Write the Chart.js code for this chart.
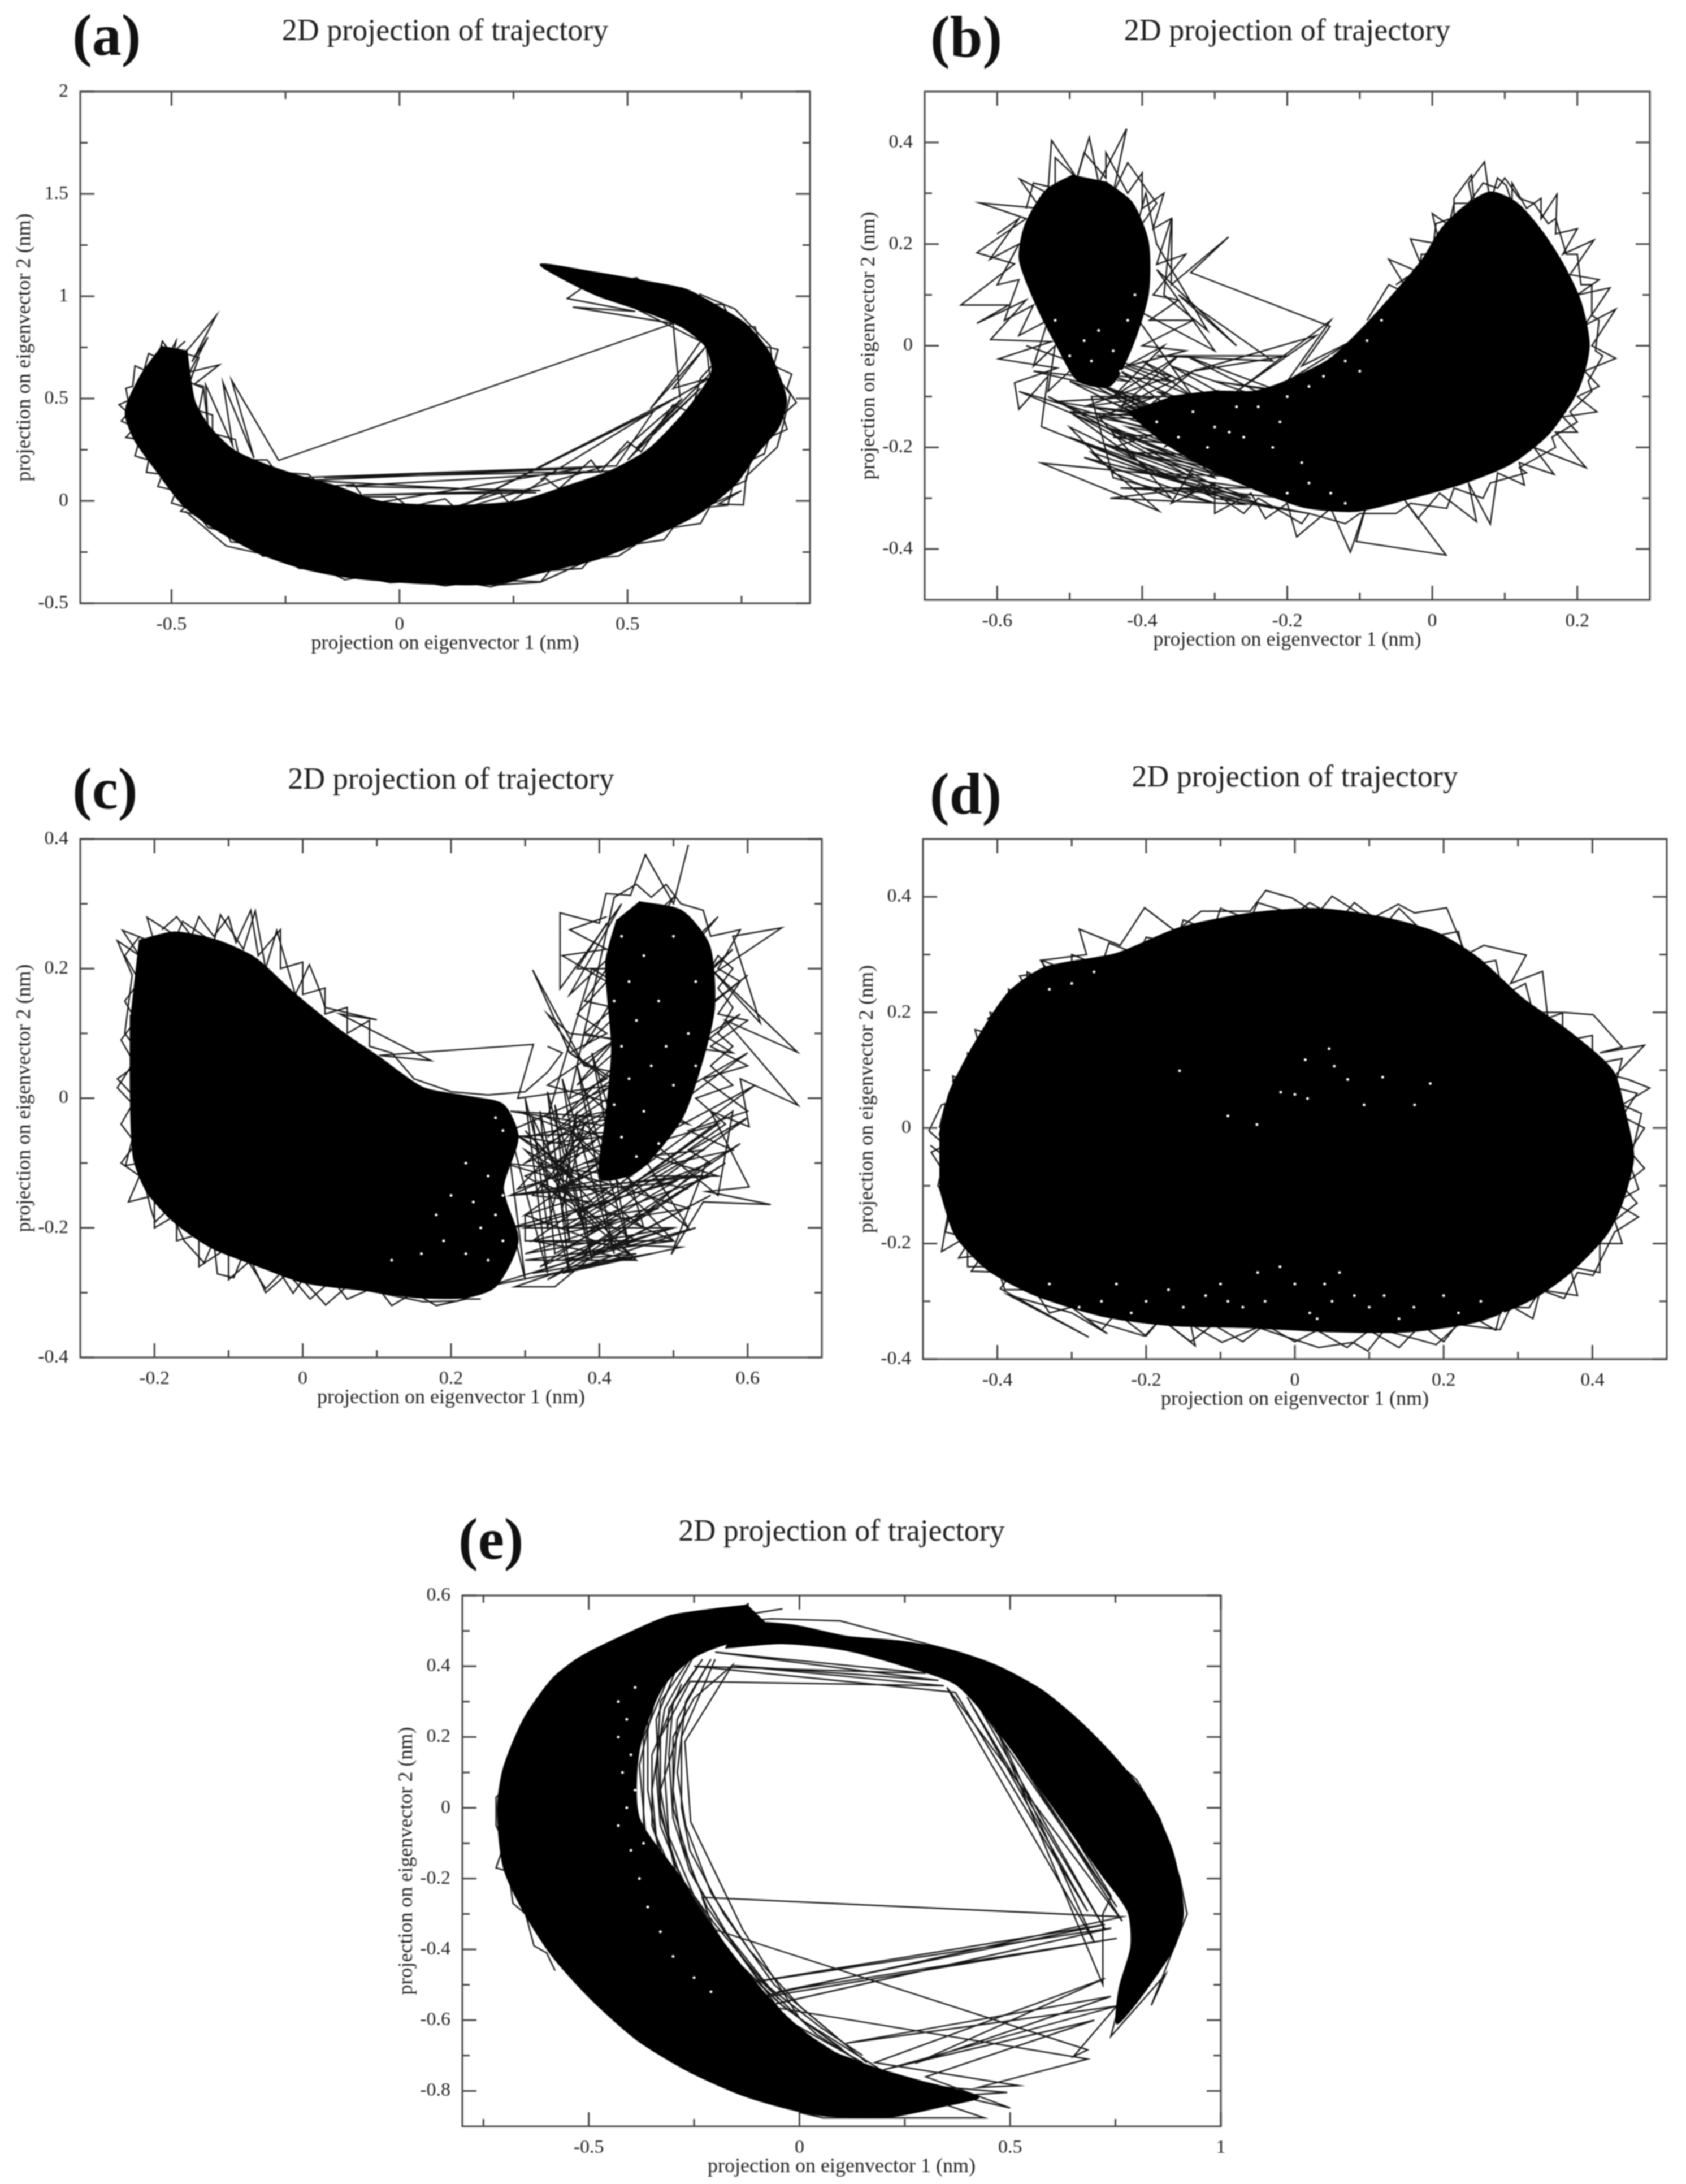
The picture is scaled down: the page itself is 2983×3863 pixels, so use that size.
<!DOCTYPE html>
<html>
<head>
<meta charset="utf-8">
<title>2D projection of trajectory</title>
<script src="https://cdn.jsdelivr.net/npm/chart.js@4"></script>
<style>
html,body{margin:0;padding:0;background:#fff}
body{position:relative;width:2983px;height:3863px;overflow:hidden}
canvas{position:absolute;filter:blur(0.9px)}
.tag{position:absolute;font:bold 104px "Liberation Serif",serif;line-height:104px;color:#111;filter:blur(0.9px)}
</style>
</head>
<body>
<script>
// values, eigenvector 1 / eigenvector 2 in nm
// *Core = outline of the part where the trajectory is solid black
// *Trace, *Fringe, *Bridge, *Ring, *Arc = strands that can still be followed by eye
// *Specks = small white gaps left inside the black

const aXMajor=[-0.5,0,0.5], aXMinor=[-0.25,0.25,0.75]
const aYMajor=[-0.5,0,0.5,1,1.5,2], aYMinor=[-0.25,0.25,0.75,1.25,1.75]
const aCore=[[-.52,.757],[-.565,.62],[-.597,.473],[-.60,.41],[-.579,.293],[-.532,.146],[-.473,-.023],[-.402,-.139],[-.307,-.255],[-.212,-.329],[-.117,-.371],[-.023,-.392],[.108,-.407],[.214,-.403],[.309,-.35],[.428,-.287],[.546,-.181],[.653,-.065],[.736,.082],[.783,.23],[.83,.357],[.848,.483],[.836,.589],[.807,.736],[.759,.863],[.70,.947],[.629,1.032],[.546,1.07],[.428,1.116],[.309,1.154],[.428,1.01],[.546,.92],[.62,.85],[.67,.76],[.686,.65],[.677,.589],[.629,.441],[.546,.251],[.463,.146],[.368,.072],[.262,-.002],[.143,-.023],[.049,-.023],[-.046,-.002],[-.141,.072],[-.224,.124],[-.307,.188],[-.366,.251],[-.419,.367],[-.449,.483],[-.461,.631],[-.467,.736]]
const aTrace=[[-.53,.62],[-.49,.78],[-.50,.66],[-.46,.75],[-.402,.905],[-.455,.68],[-.42,.80],[-.46,.63],[-.395,.665],[-.45,.57],[-.43,.56],[-.42,.36],[-.425,.568],[-.366,.272],[-.387,.578],[-.319,.209],[-.368,.589],[-.265,.198],[.60,.867],[.615,.504],[.60,.867],[.38,.947],[.517,.926],[.368,.989],[.428,1.084],[.5,.96],[.66,.78],[.62,.65],[.55,.45],[.67,.75],[.6,.55],[.68,.6],[.558,.441],[.309,.103],[.605,.504],[.143,-.019],[.558,.441],[.475,.171],[-.212,.114],[.475,.171],[-.165,.114],[.463,.146],[-.117,.072],[.309,.051],[-.08,.03],[.3,.04],[-.2,.1],[.4,.16],[-.05,-.01],[.15,-.03],[.45,.17],[.62,.5],[.5,.2],[.66,.55],[.52,.26],[.68,.62],[.659,1.01],[.736,.937],[.813,.757],[.819,.631],[.857,.521],[.842,.378],[.828,.262],[.76,.12],[.754,-.019],[.70,-.015],[.75,.05],[.309,-.397],[.214,-.41],[.1,-.4],[-.3,-.26],[-.38,-.22],[-.47,-.05]]
const aFringe=[[-.47,.78],[-.5,.72],[-.52,.78],[-.53,.7],[-.55,.72],[-.56,.64],[-.58,.66],[-.585,.56],[-.6,.55],[-.595,.49],[-.615,.47],[-.595,.43],[-.61,.39],[-.58,.36],[-.6,.31],[-.57,.3],[-.58,.22],[-.55,.2],[-.555,.14],[-.52,.13],[-.53,.07],[-.49,.05],[-.5,-.01],[-.47,-.03],[-.48,-.05],[-.44,-.07],[-.42,-.13],[-.38,-.15],[-.37,-.2],[-.33,-.21],[-.3,-.27],[-.26,-.27],[-.22,-.33],[-.17,-.33],[-.12,-.385],[-.08,-.37],[-.02,-.4],[.04,-.39],[.1,-.415],[.15,-.4],[.2,-.42],[.25,-.39],[.31,-.395],[.33,-.34],[.4,-.33],[.42,-.28],[.48,-.27],[.52,-.21],[.58,-.19],[.6,-.13],[.66,-.11],[.68,-.03],[.72,-.02],[.73,.07],[.76,.1],[.77,.2],[.8,.23],[.81,.31],[.85,.35],[.84,.42],[.87,.48],[.85,.55],[.86,.62],[.82,.66],[.83,.74],[.79,.76],[.78,.85],[.73,.86],[.71,.96],[.66,.96],[.62,1.04],[.56,1.02],[.52,1.09],[.46,1.06],[.42,1.12]]
const aInner=[[.67,.8],[.71,.72],[.66,.6],[.64,.43],[.6,.47],[.53,.24],[.5,.29],[.44,.14],[.42,.2],[.35,.06],[.32,.11],[.24,-.01],[.22,.04],[.12,-.03],[.1,.01],[.02,-.03],[-.01,.02],[-.08,.02],[-.1,.08],[-.17,.07],[-.2,.13],[-.27,.14],[-.29,.2],[-.35,.2],[-.36,.3],[-.41,.33],[-.41,.42],[-.44,.44],[-.43,.55],[-.46,.58],[-.44,.7],[-.47,.72]]

const bXMajor=[-0.6,-0.4,-0.2,0,0.2], bXMinor=[-0.5,-0.3,-0.1,0.1]
const bYMajor=[-0.4,-0.2,0,0.2,0.4], bYMinor=[-0.3,-0.1,0.1,0.3]
const bCoreLeft=[[-.495,.336],[-.532,.306],[-.561,.238],[-.569,.17],[-.547,.084],[-.517,-.001],[-.488,-.069],[-.444,-.078],[-.414,-.001],[-.392,.102],[-.392,.204],[-.414,.281],[-.451,.323]]
const bCoreRight=[[-.42,-.13],[-.37,-.19],[-.31,-.24],[-.245,-.282],[-.178,-.317],[-.105,-.325],[-.031,-.30],[.043,-.27],[.109,-.231],[.161,-.172],[.201,-.086],[.216,-.001],[.205,.084],[.183,.153],[.153,.221],[.116,.281],[.08,.302],[.043,.272],[.013,.23],[-.013,.17],[-.053,.102],[-.097,.033],[-.141,-.026],[-.2,-.069],[-.245,-.09],[-.3,-.09],[-.36,-.1]]
const bTrace=[[-.4215,.427],[-.46,.32],[-.473,.41],[-.49,.33],[-.525,.404],[-.53,.3],[-.569,.328],[-.54,.27],[-.624,.281],[-.56,.25],[-.628,.183],[-.576,.161],[-.65,.08],[-.584,.08],[-.628,.044],[-.56,.09],[-.609,.012],[-.525,.008],[-.598,-.026],[-.517,-.044],[-.576,-.073],[-.57,-.125],[-.53,-.06],[-.539,-.159],[-.385,-.248],[-.5,-.13],[-.33,-.26],[-.539,-.231],[-.377,-.325],[-.47,-.21],[-.26,-.312],[-.444,-.3],[-.3,-.275],[-.53,-.1],[-.35,-.22],[-.57,-.09],[-.33,-.19],[-.5,-.05],[-.3,-.17],[-.45,-.08],[-.27,-.2],[-.42,-.16],[-.25,-.26],[-.4,-.2],[-.2,-.3],[-.35,-.28],[-.17,-.33],[-.3,-.3],[-.5,-.16],[-.44,-.25],[-.36,-.3],[-.46,-.14],[-.38,-.1],[-.48,-.12],[-.36,-.06],[-.46,-.02],[-.33,-.1],[-.42,.08],[-.3,-.01],[-.38,.15],[-.27,.0],[-.35,.1],[-.22,-.03],[-.38,-.02],[-.2,-.02],[-.33,-.05],[-.16,.02],[-.27,-.09],[-.14,.05],[-.2,-.07],[-.11,.01],[-.18,-.04],[-.141,.038],[-.333,.144],[-.281,.214],[-.36,.12],[-.359,.251],[-.37,.1],[-.31,.03],[-.38,.2],[-.395,.3],[-.41,.22],[-.38,.28],[-.42,.36],[-.44,.3],[-.4215,.427]]
const bRing=[[-.56,.27],[-.55,.32],[-.52,.31],[-.52,.37],[-.49,.33],[-.48,.38],[-.45,.33],[-.45,.38],[-.42,.3],[-.4,.34],[-.4,.27],[-.37,.3],[-.385,.23],[-.36,.25],[-.38,.16],[-.34,.18],[-.385,.1],[-.35,.09],[-.39,.05],[-.33,.05],[-.4,.0],[-.34,-.01],[-.42,-.04],[-.36,-.07],[-.5,-.05],[-.53,-.09],[-.52,.0],[-.55,-.04],[-.53,.05],[-.57,.02],[-.55,.08],[-.59,.05],[-.57,.13],[-.6,.12],[-.57,.2],[-.61,.17],[-.57,.25],[-.6,.22]]
const bRing2=[[-.56,-.0],[-.42,-.07],[-.55,-.05],[-.4,-.1],[-.52,-.11],[-.38,-.14],[-.5,-.13],[-.36,-.17],[-.5,-.07],[-.35,-.14],[-.47,-.12],[-.34,-.18],[-.46,-.07],[-.37,.0],[-.44,-.1],[-.35,-.02],[-.43,-.12],[-.33,-.05],[-.41,-.14],[-.3,-.09],[-.39,-.17],[-.28,-.1],[-.37,-.2],[-.26,-.1]]
const bFringe=[[-.09,.05],[-.06,.12],[-.03,.1],[-.06,.17],[-.01,.14],[-.03,.21],[.01,.2],[.0,.26],[.03,.23],[.03,.29],[.054,.336],[.06,.25],[.05,.32],[.072,.362],[.08,.28],[.09,.33],[.102,.315],[.11,.28],[.11,.32],[.13,.27],[.15,.29],[.15,.25],[.172,.298],[.17,.22],[.2,.23],[.18,.18],[.223,.208],[.19,.14],[.23,.13],[.2,.1],[.245,.114],[.21,.04],[.253,.072],[.22,.0],[.253,-.025],[.21,-.05],[.23,-.08],[.2,-.1],[.227,-.13],[.18,-.14],[.2,-.17],[.17,-.17],[.212,-.24],[.14,-.2],[.168,-.253],[.12,-.23],[.127,-.274],[.09,-.25],[.08,-.351],[.05,-.27],[.061,-.346],[.01,-.29],[-.02,-.34],[-.04,-.3],[.019,-.412],[-.105,-.385],[-.09,-.31],[-.113,-.406],[-.14,-.32],[-.187,-.376],[-.2,-.31],[-.23,-.34],[-.25,-.29],[-.3,-.33],[-.3,-.27],[-.36,-.31],[-.33,-.24]]
const bFringe2=[[-.05,.12],[-.035,.135],[-.02,.13],[-.015,.18],[.0,.18],[.005,.24],[.025,.25],[.03,.28],[.05,.28],[.07,.32],[.09,.31],[.1,.33],[.12,.29],[.14,.28],[.16,.24],[.17,.25],[.185,.18],[.2,.18],[.205,.12],[.22,.12],[.22,.06],[.23,.05],[.225,-.01],[.235,-.02],[.215,-.07],[.22,-.09],[.19,-.13],[.2,-.15],[.165,-.18],[.17,-.2],[.12,-.24],[.13,-.25],[.08,-.27],[.07,-.3],[.03,-.28],[.02,-.32],[-.03,-.31],[-.05,-.33],[-.1,-.33],[-.12,-.35],[-.17,-.33],[-.18,-.35],[-.24,-.3],[-.26,-.33],[-.32,-.27],[-.34,-.3]]
const bBridge=[[-.48,-.06],[-.3,-.2],[-.46,-.1],[-.27,-.22],[-.43,-.05],[-.27,-.16],[-.4,-.03],[-.25,-.14],[-.42,-.12],[-.25,-.24],[-.45,-.16],[-.23,-.28],[-.46,-.19],[-.3,-.26],[-.4,-.12],[-.22,-.2],[-.38,-.09],[-.22,-.15],[-.36,-.04],[-.2,-.12],[-.34,-.02],[-.21,-.09],[-.3,-.07],[-.2,-.09],[-.44,-.2],[-.25,-.3],[-.42,-.24],[-.22,-.32],[-.5,-.18],[-.34,-.27],[-.48,-.22],[-.3,-.31],[-.44,-.26],[-.47,-.1],[-.2,-.1],[-.46,-.14],[-.2,-.16],[-.44,-.18],[-.2,-.22],[-.42,-.21],[-.22,-.26],[-.4,-.25],[-.25,-.28],[-.43,-.28],[-.3,-.29]]
const bSpecks=[[-.47,-.03],[-.44,-.01],[-.5,-.02],[-.46,.03],[-.42,.05],[-.41,.1],[-.52,.05],[-.43,-.05],[-.48,.01],[-.3,-.16],[-.27,-.12],[-.26,-.18],[-.28,-.17],[-.24,-.12],[-.21,-.15],[-.2,-.1],[-.17,-.08],[-.22,-.2],[-.18,-.23],[-.15,-.06],[-.12,-.03],[-.09,.01],[-.14,-.02],[-.1,-.05],[-.07,.05],[-.17,-.27],[-.14,-.29],[-.2,-.29],[-.12,-.31],[-.38,-.15],[-.35,-.18],[-.33,-.13],[-.31,-.2]]

const cXMajor=[-0.2,0,0.2,0.4,0.6], cXMinor=[-0.1,0.1,0.3,0.5]
const cYMajor=[-0.4,-0.2,0,0.2,0.4], cYMinor=[-0.3,-0.1,0.1,0.3]
const cCoreLeft=[[-.221,.243],[-.173,.256],[-.115,.243],[-.064,.216],[-.013,.163],[.052,.103],[.103,.063],[.162,.016],[.22,.003],[.27,-.01],[.29,-.06],[.27,-.14],[.29,-.22],[.26,-.29],[.22,-.307],[.154,-.307],[.089,-.297],[.001,-.284],[-.064,-.257],[-.122,-.231],[-.173,-.191],[-.21,-.144],[-.228,-.091],[-.232,.009],[-.232,.129]]
const cCoreRight=[[.453,.303],[.511,.289],[.548,.236],[.555,.143],[.54,.063],[.511,-.031],[.453,-.111],[.402,-.124],[.409,-.031],[.417,.076],[.409,.209],[.424,.276]]
const cTrace=[[.52,.391],[.5,.3],[.462,.376],[.442,.313],[.409,.316],[.4,.27],[.347,.286],[.347,.169],[.43,.3],[.36,.16],[.5,.31],[.38,.08],[.56,.28],[.37,.02],[.58,.23],[.35,-.03],[.6,.19],[.33,-.06],[.59,.13],[.34,-.1],[.6,.07],[.35,-.14],[.61,.02],[.37,-.18],[.6,-.03],[.38,-.21],[.59,-.07],[.36,-.25],[.57,-.1],[.33,-.28],[.55,-.15],[.4,-.24],[.53,-.2],[.35,-.27],[.51,-.23],[.31,-.22],[.45,-.25],[.32,-.1],[.52,-.17],[.35,-.2],[.5,-.1],[.33,-.03],[.39,.2],[.58,.07],[.36,.1],[.33,.13],[.38,.05],[.31,.198],[.36,.07],[.52,-.04],[.33,.02],[.646,.263],[.58,.25],[.617,.116],[.55,.2],[.667,.071],[.57,.12],[.668,-.011],[.59,.03],[.602,-.044],[.55,-.02],[.602,-.137],[.544,-.144],[.631,-.164],[.54,-.16],[.497,-.241],[.544,-.1],[.34,-.291],[.286,-.291],[.34,-.27],[.45,-.24],[.35,-.25],[.5,-.2],[.3,-.2],[.52,-.12],[.28,-.15],[.48,-.05],[.26,-.06],[.42,.02],[.29,.0],[.311,.083],[.103,.066],[.173,.058],[.05,.13],[.1,.121],[.03,.14],[.023,.166],[.009,.206],[-.01,.16],[-.035,.259],[-.05,.2],[-.064,.289],[-.08,.23],[-.111,.283],[-.12,.24],[-.162,.273],[-.17,.25],[-.21,.279],[-.2,.24],[-.243,.259],[-.22,.22],[-.25,.243],[-.23,.19],[-.24,.1],[-.22,.07],[-.25,.016],[-.22,-.02],[-.239,-.104],[-.22,-.1],[-.205,-.17],[-.199,-.191],[-.18,-.17],[-.16,-.22],[-.133,-.254],[-.12,-.22],[-.115,-.271],[-.093,-.277],[-.08,-.24],[-.05,-.294],[-.03,-.27],[-.013,-.301],[.0,-.28],[.031,-.319],[.06,-.29],[.162,-.314],[.209,-.313],[.24,-.3]]
const cFringe=[[-.22,.25],[-.24,.22],[-.22,.18],[-.24,.15],[-.225,.12],[-.245,.09],[-.225,.05],[-.25,.03],[-.225,0],[-.245,-.04],[-.225,-.07],[-.245,-.1],[-.22,-.12],[-.235,-.16],[-.2,-.15],[-.2,-.2],[-.17,-.18],[-.17,-.22],[-.14,-.21],[-.14,-.26],[-.1,-.23],[-.1,-.28],[-.07,-.25],[-.05,-.3],[-.02,-.27],[.01,-.31],[.04,-.28],[.06,-.31],[.1,-.29],[.12,-.32],[.15,-.3],[.18,-.32],[.22,-.31],[.24,-.31]]
const cTop=[[-.19,.26],[-.17,.28],[-.15,.25],[-.14,.28],[-.12,.25],[-.1,.28],[-.09,.24],[-.07,.29],[-.06,.22],[-.03,.26],[-.03,.2],[0,.21],[0,.16],[.03,.17],[.03,.13],[.06,.14],[.06,.1],[.09,.12],[.09,.08],[.12,.07],[.15,.03],[.2,.01],[.25,.005],[.3,.01],[.33,.04],[.35,.07],[.33,.08]]
const cBridge=[[.24,.0],[.3,-.28],[.27,-.01],[.33,-.27],[.3,0],[.36,-.27],[.33,.01],[.39,-.25],[.35,.03],[.42,-.24],[.37,.05],[.44,-.23],[.39,.07],[.46,-.2],[.28,-.05],[.42,-.15],[.27,-.1],[.44,-.12],[.28,-.15],[.5,-.13],[.28,-.2],[.48,-.17],[.3,-.24],[.5,-.2],[.31,-.27],[.47,-.24],[.25,-.29],[.45,-.22],[.3,-.12],[.45,-.05],[.28,-.02],[.42,-.03],[.3,-.06],[.44,-.09],[.34,-.14],[.55,-.12],[.36,-.2],[.54,-.08],[.38,-.1],[.56,-.04],[.4,-.17],[.58,-.02],[.56,-.15],[.42,-.02],[.52,-.2],[.36,-.05],[.5,-.22],[.32,-.13],[.44,-.24],[.3,-.18],[.3,-.22],[.5,-.22],[.3,-.25],[.45,-.25]]
const cBridge2=[[.29,-.02],[.38,-.06],[.3,-.1],[.39,-.02],[.29,-.14],[.4,-.1],[.3,-.18],[.41,-.14],[.31,-.22],[.42,-.19],[.34,-.24],[.32,-.02],[.36,-.22],[.34,-.01],[.38,-.2],[.31,-.03],[.33,-.2],[.37,-.02],[.35,-.17],[.38,-.04],[.34,-.12],[.4,-.06],[.33,-.07],[.41,-.02],[.31,-.15],[.39,-.16],[.3,-.05],[.36,-.12],[.3,-.08],[.4,-.2],[.32,-.26],[.4,-.22]]
const cRing=[[.41,.28],[.36,.26],[.41,.23],[.35,.22],[.41,.18],[.37,.13],[.41,.1],[.36,.07],[.41,.03],[.36,0],[.42,.31],[.45,.33],[.47,.31],[.49,.33],[.51,.3],[.54,.29],[.55,.25],[.59,.26],[.56,.2],[.59,.18],[.56,.13],[.6,.12],[.55,.08],[.6,.05],[.54,.03],[.6,-.02],[.52,-.05],[.58,-.08],[.5,-.1],[.56,-.12],[.47,-.12]]
const cRing2=[[.41,.27],[.37,.2],[.41,.2],[.38,.15],[.42,.14],[.38,.1],[.42,.09],[.38,.05],[.42,.04],[.38,.01],[.41,-.02],[.37,-.03],[.41,-.07],[.56,.22],[.58,.2],[.56,.17],[.58,.14],[.56,.1],[.58,.08],[.55,.05],[.58,.02],[.53,.0],[.57,-.04],[.52,-.08],[.55,-.1],[.48,-.13],[.52,-.14]]
const cSpecks=[[.43,.25],[.46,.22],[.44,.18],[.42,.15],[.45,.12],[.43,.08],[.47,.05],[.44,.03],[.42,-.01],[.46,-.02],[.43,-.06],[.48,-.07],[.45,-.09],[.5,.02],[.52,.1],[.53,.18],[.5,.25],[.48,.15],[.49,.08],[.53,.05],[.27,-.15],[.26,-.18],[.24,-.2],[.27,-.22],[.23,-.16],[.25,-.12],[.27,-.05],[.22,-.1],[.2,-.15],[.19,-.22],[.22,-.24],[.25,-.25],[.26,-.03],[.18,-.18],[.16,-.24],[.12,-.25]]

const dXMajor=[-0.4,-0.2,0,0.2,0.4], dXMinor=[-0.3,-0.1,0.1,0.3]
const dYMajor=[-0.4,-0.2,0,0.2,0.4], dYMinor=[-0.3,-0.1,0.1,0.3]
const dCore=[[-.478,-.013],[-.464,.062],[-.428,.151],[-.385,.234],[-.335,.278],[-.241,.301],[-.155,.346],[-.055,.372],[.032,.379],[.118,.364],[.19,.338],[.247,.293],[.304,.226],[.369,.166],[.427,.099],[.444,.025],[.455,-.05],[.441,-.125],[.419,-.184],[.369,-.251],[.319,-.296],[.247,-.334],[.154,-.352],[.046,-.352],[-.062,-.345],[-.169,-.341],[-.256,-.326],[-.349,-.289],[-.414,-.244],[-.457,-.184],[-.478,-.102]]
const dTrace=[[-.492,-.005],[-.47,-.03],[-.489,-.042],[-.46,-.1],[-.475,-.214],[-.43,-.18],[-.452,-.225],[-.42,-.22],[-.435,-.248],[-.38,-.25],[-.396,-.278],[-.277,-.362],[-.385,-.289],[-.3,-.32],[-.252,-.356],[-.28,-.33],[-.202,-.36],[-.18,-.33],[-.134,-.377],[-.14,-.34],[-.098,-.371],[-.05,-.345],[.032,-.38],[.078,-.371],[.098,-.386],[.12,-.35],[.19,-.375],[.22,-.34],[.276,-.349],[.29,-.31],[.315,-.311],[.33,-.28],[.362,-.295],[.38,-.25],[.401,-.255],[.43,-.18],[.462,-.154],[.43,-.13],[.462,-.106],[.45,-.06],[.466,.025],[.44,.04],[.477,.069],[.448,.084],[.43,.09],[.47,.143],[.41,.13],[.44,.14],[.401,.196],[.362,.2],[.34,.19],[.333,.271],[.29,.25],[.311,.299],[.254,.316],[.23,.3],[.204,.381],[.161,.372],[.139,.387],[.1,.36],[.05,.401],[.03,.37],[-.004,.398],[-.039,.411],[-.06,.375],[-.126,.375],[-.16,.34],[-.202,.381],[-.235,.316],[-.29,.344],[-.28,.3],[-.342,.29],[-.33,.27],[-.37,.263],[-.36,.24],[-.413,.189],[-.39,.17],[-.435,.137],[-.43,.12],[-.46,.081],[-.45,.05],[-.475,.04],[-.492,-.005]]
const dFringe=[[-.478,0],[-.47,.04],[-.455,.03],[-.46,.09],[-.44,.08],[-.44,.13],[-.42,.12],[-.43,.17],[-.4,.16],[-.41,.2],[-.38,.19],[-.385,.24],[-.36,.22],[-.36,.27],[-.33,.25],[-.34,.29],[-.3,.27],[-.3,.3],[-.26,.28],[-.25,.32],[-.21,.3],[-.2,.33],[-.16,.32],[-.15,.36],[-.11,.34],[-.1,.38],[-.06,.36],[-.05,.39],[0,.37],[.02,.39],[.06,.36],[.08,.39],[.12,.35],[.14,.38],[.18,.33],[.22,.34],[.23,.28],[.27,.29],[.28,.23],[.31,.25],[.32,.2],[.36,.2],[.36,.15],[.4,.16],[.4,.11],[.44,.12],[.43,.07],[.46,.06],[.44,.02],[.47,.0],[.45,-.04],[.47,-.07],[.44,-.1],[.46,-.13],[.43,-.16],[.44,-.2],[.41,-.2],[.41,-.25],[.37,-.24],[.38,-.29],[.33,-.28],[.32,-.33],[.28,-.3],[.27,-.35],[.23,-.32],[.2,-.37],[.17,-.34],[.14,-.38],[.1,-.35],[.07,-.38],[.03,-.35],[0,-.37],[-.04,-.34],[-.07,-.37],[-.11,-.34],[-.14,-.37],[-.18,-.33],[-.2,-.36],[-.24,-.32],[-.26,-.35],[-.3,-.31],[-.33,-.32],[-.35,-.28],[-.39,-.28],[-.4,-.24],[-.44,-.24],[-.44,-.19],[-.47,-.18],[-.46,-.13],[-.48,-.1],[-.47,-.05],[-.49,-.03]]
const dFringe2=[[-.46,.05],[-.445,.1],[-.43,.11],[-.42,.15],[-.4,.18],[-.38,.21],[-.35,.25],[-.32,.27],[-.28,.29],[-.24,.3],[-.2,.32],[-.18,.31],[-.15,.34]]
const dSpecks=[[-.019,.062],[0,.058],[.017,.051],[.053,.107],[.071,.084],[.118,.088],[.182,.077],[.093,.04],[-.051,.006],[-.09,.021],[.014,.118],[.046,.137],[-.155,.099],[.161,.04],[-.12,-.29],[-.09,-.3],[-.07,-.31],[-.04,-.3],[-.1,-.27],[.04,-.27],[.05,-.3],[.08,-.29],[.1,-.31],[.02,-.32],[-.15,-.31],[-.2,-.3],[-.22,-.32],[-.26,-.3],[-.29,-.31],[.12,-.29],[.16,-.31],[.2,-.29],[-.02,-.24],[-.05,-.25],[0,-.27],[.06,-.25],[-.17,-.28],[.25,-.3],[.28,-.32],[-.33,-.27],[.22,-.32],[-.24,-.27],[.14,-.33],[.03,-.33],[-.3,.25],[-.27,.27],[-.33,.24]]

const eXMajor=[-0.5,0,0.5,1], eXMinor=[-0.75,-0.25,0.25,0.75]
const eYMajor=[-0.8,-0.6,-0.4,-0.2,0,0.2,0.4,0.6], eYMinor=[-0.7,-0.5,-0.3,-0.1,0.1,0.3,0.5]
const eCoreLeft=[[-.122,.572],[-.217,.559],[-.313,.54],[-.422,.484],[-.518,.427],[-.586,.364],[-.654,.25],[-.702,.111],[-.716,-.003],[-.702,-.167],[-.654,-.293],[-.586,-.419],[-.49,-.545],[-.381,-.659],[-.258,-.747],[-.122,-.817],[.042,-.867],[.206,-.874],[.343,-.842],[.425,-.817],[.288,-.773],[.179,-.735],[.07,-.684],[-.026,-.596],[-.122,-.47],[-.204,-.343],[-.286,-.192],[-.381,-.028],[-.381,.162],[-.327,.338],[-.249,.427],[-.149,.471],[-.04,.477]]
const eCoreRight=[[-.149,.528],[-.012,.515],[.111,.484],[.234,.471],[.357,.446],[.466,.402],[.575,.332],[.671,.237],[.753,.136],[.835,.01],[.883,-.116],[.903,-.217],[.91,-.306],[.889,-.394],[.848,-.47],[.794,-.558],[.753,-.609],[.76,-.508],[.787,-.394],[.78,-.293],[.72,-.192],[.64,-.06],[.55,.09],[.45,.25],[.37,.351],[.247,.402],[.111,.446],[-.04,.465],[-.176,.452]]
const eTrace=[[-.04,.562],[-.122,.547],[-.122,.576],[-.2,.52],[-.067,.534],[.097,.528],[.357,.446],[.56,.33],[.8,.08],[.855,-.03],[.903,-.2],[.92,-.3],[.835,-.558],[.869,-.47],[.739,-.646],[.76,-.55],[.65,-.703],[.684,-.684],[-.204,-.343],[-.231,-.253],[.766,-.308],[-.135,-.545],[.753,-.369],[-.053,-.52],[.725,-.33],[-.15,-.5],[.74,-.34],[-.08,-.56],[.684,-.71],[.425,-.79],[.52,-.785],[.179,-.72],[.725,-.482],[.275,-.722],[.739,-.533],[.111,-.665],[.753,-.56],[.2,-.74],[.7,-.6],[.3,-.76],[.5,-.848],[.25,-.78],[.493,-.804],[.3,-.82],[.439,-.876],[.056,-.876],[.001,-.861],[.206,-.75],[.001,-.596],[-.135,-.343],[-.258,-.04],[-.272,.187],[-.16,.402],[-.25,.31],[-.3,.2],[-.3,.0],[-.25,-.2],[-.15,-.4],[-.03,-.6],[.15,-.72],[-.05,-.64],[-.2,-.42],[-.29,-.2],[-.33,0],[-.33,.2],[-.26,.357],[.343,.345],[-.16,.402],[.33,.36],[-.2,.44],[.3,.38],[-.25,.4],[.37,.326],[.684,-.293],[.398,.313],[.725,-.343],[.425,.288],[.753,-.28],[.48,.212],[.766,-.32],[.35,.34],[.7,-.38],[.44,.3],[.72,-.5],[.72,-.3],[.74,-.25],[.55,.12]]
const eArc1=[[-.26,.42],[-.33,.3],[-.34,.1],[-.33,-.05],[-.28,-.2],[-.2,-.33],[-.08,-.5],[.05,-.62],[.15,-.7]]
const eArc2=[[-.24,.4],[-.31,.28],[-.32,.1],[-.31,-.08],[-.25,-.25],[-.16,-.42],[-.04,-.56],[.1,-.68]]
const eArc3=[[-.22,.4],[-.29,.25],[-.3,.05],[-.28,-.1],[-.22,-.28],[-.1,-.48],[.04,-.64],[.2,-.76]]
const eArc4=[[-.2,.42],[-.28,.2],[-.28,0],[-.26,-.12],[-.18,-.3],[-.06,-.5],[.08,-.64]]
const eArc5=[[-.28,.35],[-.35,.15],[-.35,-.05],[-.3,-.22],[-.2,-.4],[-.08,-.56],[.06,-.7],[.24,-.8]]
const eArc6=[[-.3,.4],[-.37,.2],[-.37,-.1],[-.31,-.26],[-.22,-.44],[-.1,-.6],[.1,-.75]]
const eArc7=[[-.27,.28],[-.33,.05],[-.3,-.15],[-.21,-.36],[-.06,-.58],[.12,-.72]]
const eArc8=[[-.25,.43],[-.32,.28],[-.35,.05],[-.34,-.08],[-.28,-.24],[-.18,-.4],[-.05,-.55],[.12,-.7]]
const eArc9=[[-.23,.42],[-.3,.3],[-.31,.15],[-.3,-.03],[-.26,-.18],[-.17,-.36],[-.05,-.54]]
const eArc10=[[-.21,.42],[-.27,.3],[-.29,.1],[-.27,-.05],[-.21,-.24],[-.12,-.4],[0,-.56],[.16,-.72]]
const eArc11=[[-.32,.38],[-.36,.25],[-.36,.05],[-.33,-.15],[-.26,-.3],[-.15,-.47],[-.02,-.62]]
const eArc12=[[-.29,.4],[-.34,.25],[-.33,-.02],[-.29,-.17],[-.22,-.34],[-.12,-.5],[.02,-.66],[.18,-.76]]
const eArc13=[[-.34,.32],[-.38,.12],[-.36,-.14],[-.29,-.28],[-.19,-.44],[-.06,-.62],[.14,-.76]]
const eEdge=[[-.6,.33],[-.59,.31],[-.63,.26],[-.66,.22],[-.66,.17],[-.7,.12],[-.7,.05],[-.72,.03],[-.72,-.05],[-.7,-.1],[-.72,-.17],[-.69,-.18],[-.68,-.27],[-.65,-.3],[-.63,-.39],[-.6,-.41],[-.58,-.46]]
const eSpecks=[[-.43,.2],[-.42,.1],[-.41,0],[-.43,-.05],[-.4,-.12],[-.38,-.2],[-.36,-.28],[-.33,-.35],[-.3,-.42],[-.25,-.48],[-.21,-.52],[-.43,.3],[-.39,.34],[-.41,.25],[-.39,.05],[-.4,.15],[-.37,-.1]]

const layouts={
  a:{l:142,r:1433,t:162,b:1067,xr:[-0.7,0.9],yr:[-0.5,2],tx:128,ty:10,gap:105},
  b:{l:1636,r:2919,t:162,b:1061,xr:[-0.7,0.3],yr:[-0.5,0.5],tx:1646,ty:13,gap:105},
  c:{l:142,r:1454,t:1484,b:2401,xr:[-0.3,0.7],yr:[-0.4,0.4],tx:128,ty:1343,gap:103},
  d:{l:1633,r:2949,t:1484,b:2404,xr:[-0.5,0.5],yr:[-0.4,0.5],tx:1645,ty:1352,gap:107},
  e:{l:818,r:2160,t:2822,b:3761,xr:[-0.8,1],yr:[-0.9,0.6],tx:811,ty:2670,gap:111}
}

const titleText="2D projection of trajectory"
const xLabel="projection on eigenvector 1 (nm)"
const yLabel="projection on eigenvector 2 (nm)"
const serif='"Liberation Serif"'
const textColor="#222"

// inward ticks on all four sides plus the box, same as the grace plots
const frameTicks={
  id:"frameTicks",
  afterDatasetsDraw(chart,args,opts){
    const {ctx,chartArea:a,scales:{x,y}}=chart
    ctx.save()
    ctx.strokeStyle="#444"
    ctx.lineWidth=3
    ctx.strokeRect(a.left,a.top,a.right-a.left,a.bottom-a.top)
    const mark=(px,py,dx,dy)=>{
      ctx.beginPath()
      ctx.moveTo(px,py)
      ctx.lineTo(px+dx,py+dy)
      ctx.stroke()
    }
    const xTick=(v,len)=>{
      const p=x.getPixelForValue(v)
      mark(p,a.bottom,0,-len)
      mark(p,a.top,0,len)
    }
    const yTick=(v,len)=>{
      const p=y.getPixelForValue(v)
      mark(a.left,p,len,0)
      mark(a.right,p,-len,0)
    }
    opts.xMajor.forEach(v=>xTick(v,25))
    opts.xMinor.forEach(v=>xTick(v,13))
    opts.yMajor.forEach(v=>yTick(v,25))
    opts.yMinor.forEach(v=>yTick(v,13))
    ctx.restore()
  }
}

function toPoints(list){
  return list.map(p=>({x:p[0],y:p[1]}))
}

function coreSet(list){
  return {data:toPoints(list),showLine:true,pointRadius:0,borderColor:"#000",borderWidth:3,backgroundColor:"#000",fill:"shape",tension:0.25}
}

function traceSet(list){
  return {data:toPoints(list),showLine:true,pointRadius:0,borderColor:"#151515",borderWidth:2.5,fill:false,tension:0}
}

function speckSet(list){
  return {data:toPoints(list),showLine:false,pointRadius:2.5,pointBorderWidth:0,pointBackgroundColor:"#fff"}
}

function drawPanel(name,cores,traces,specks,xMajor,xMinor,yMajor,yMinor){
  const o=layouts[name]
  const head=140, side=130, foot=100, right=30

  const tag=document.createElement("div")
  tag.className="tag"
  tag.textContent="("+name+")"
  tag.style.left=o.tx+"px"
  tag.style.top=o.ty+"px"
  document.body.appendChild(tag)

  const cv=document.createElement("canvas")
  const w=o.r-o.l+side+right, h=o.b-o.t+head+foot
  cv.width=w
  cv.height=h
  cv.style.left=(o.l-side)+"px"
  cv.style.top=(o.t-head)+"px"
  cv.style.width=w+"px"
  cv.style.height=h+"px"
  document.body.appendChild(cv)

  const titleH=64.8
  const padTop=head-o.gap-titleH/2

  // first dataset is painted last, so the specks go on top
  const sets=[speckSet(specks)].concat(cores.map(coreSet),traces.map(traceSet))

  new Chart(cv,{
    type:"scatter",
    data:{datasets:sets},
    options:{
      responsive:false,
      animation:false,
      devicePixelRatio:1,
      layout:{padding:{left:0,right:right,top:0,bottom:0}},
      plugins:{
        legend:{display:false},
        tooltip:{enabled:false},
        title:{display:true,text:titleText,color:textColor,fullSize:false,
          font:{family:serif,size:54,weight:"normal",lineHeight:1.2},
          padding:{top:padTop,bottom:head-padTop-titleH}},
        frameTicks:{xMajor,xMinor,yMajor,yMinor}
      },
      scales:{
        x:{
          type:"linear",min:o.xr[0],max:o.xr[1],
          grid:{display:false},border:{display:false},
          afterBuildTicks:s=>{s.ticks=xMajor.map(v=>({value:v}))},
          afterFit:s=>{s.height=foot},
          ticks:{autoSkip:false,maxRotation:0,padding:10,color:textColor,font:{family:serif,size:34},callback:v=>String(v)},
          title:{display:true,text:xLabel,color:textColor,font:{family:serif,size:36},padding:{top:0,bottom:7}}
        },
        y:{
          type:"linear",min:o.yr[0],max:o.yr[1],
          grid:{display:false},border:{display:false},
          afterBuildTicks:s=>{s.ticks=yMajor.map(v=>({value:v}))},
          afterFit:s=>{s.width=side},
          ticks:{autoSkip:false,padding:13,color:textColor,font:{family:serif,size:34},callback:v=>String(v)},
          title:{display:true,text:yLabel,color:textColor,font:{family:serif,size:36},padding:{top:10,bottom:0}}
        }
      }
    },
    plugins:[frameTicks]
  })
}

drawPanel("a",[aCore],[aTrace,aFringe,aInner],[],aXMajor,aXMinor,aYMajor,aYMinor)
drawPanel("b",[bCoreLeft,bCoreRight],[bTrace,bRing,bRing2,bFringe,bFringe2,bBridge],bSpecks,bXMajor,bXMinor,bYMajor,bYMinor)
drawPanel("c",[cCoreLeft,cCoreRight],[cTrace,cFringe,cTop,cBridge,cBridge2,cRing,cRing2],cSpecks,cXMajor,cXMinor,cYMajor,cYMinor)
drawPanel("d",[dCore],[dTrace,dFringe,dFringe2],dSpecks,dXMajor,dXMinor,dYMajor,dYMinor)
drawPanel("e",[eCoreLeft,eCoreRight],[eTrace,eArc1,eArc2,eArc3,eArc4,eArc5,eArc6,eArc7,eArc8,eArc9,eArc10,eArc11,eArc12,eArc13,eEdge],eSpecks,eXMajor,eXMinor,eYMajor,eYMinor)
</script>
</body>
</html>
